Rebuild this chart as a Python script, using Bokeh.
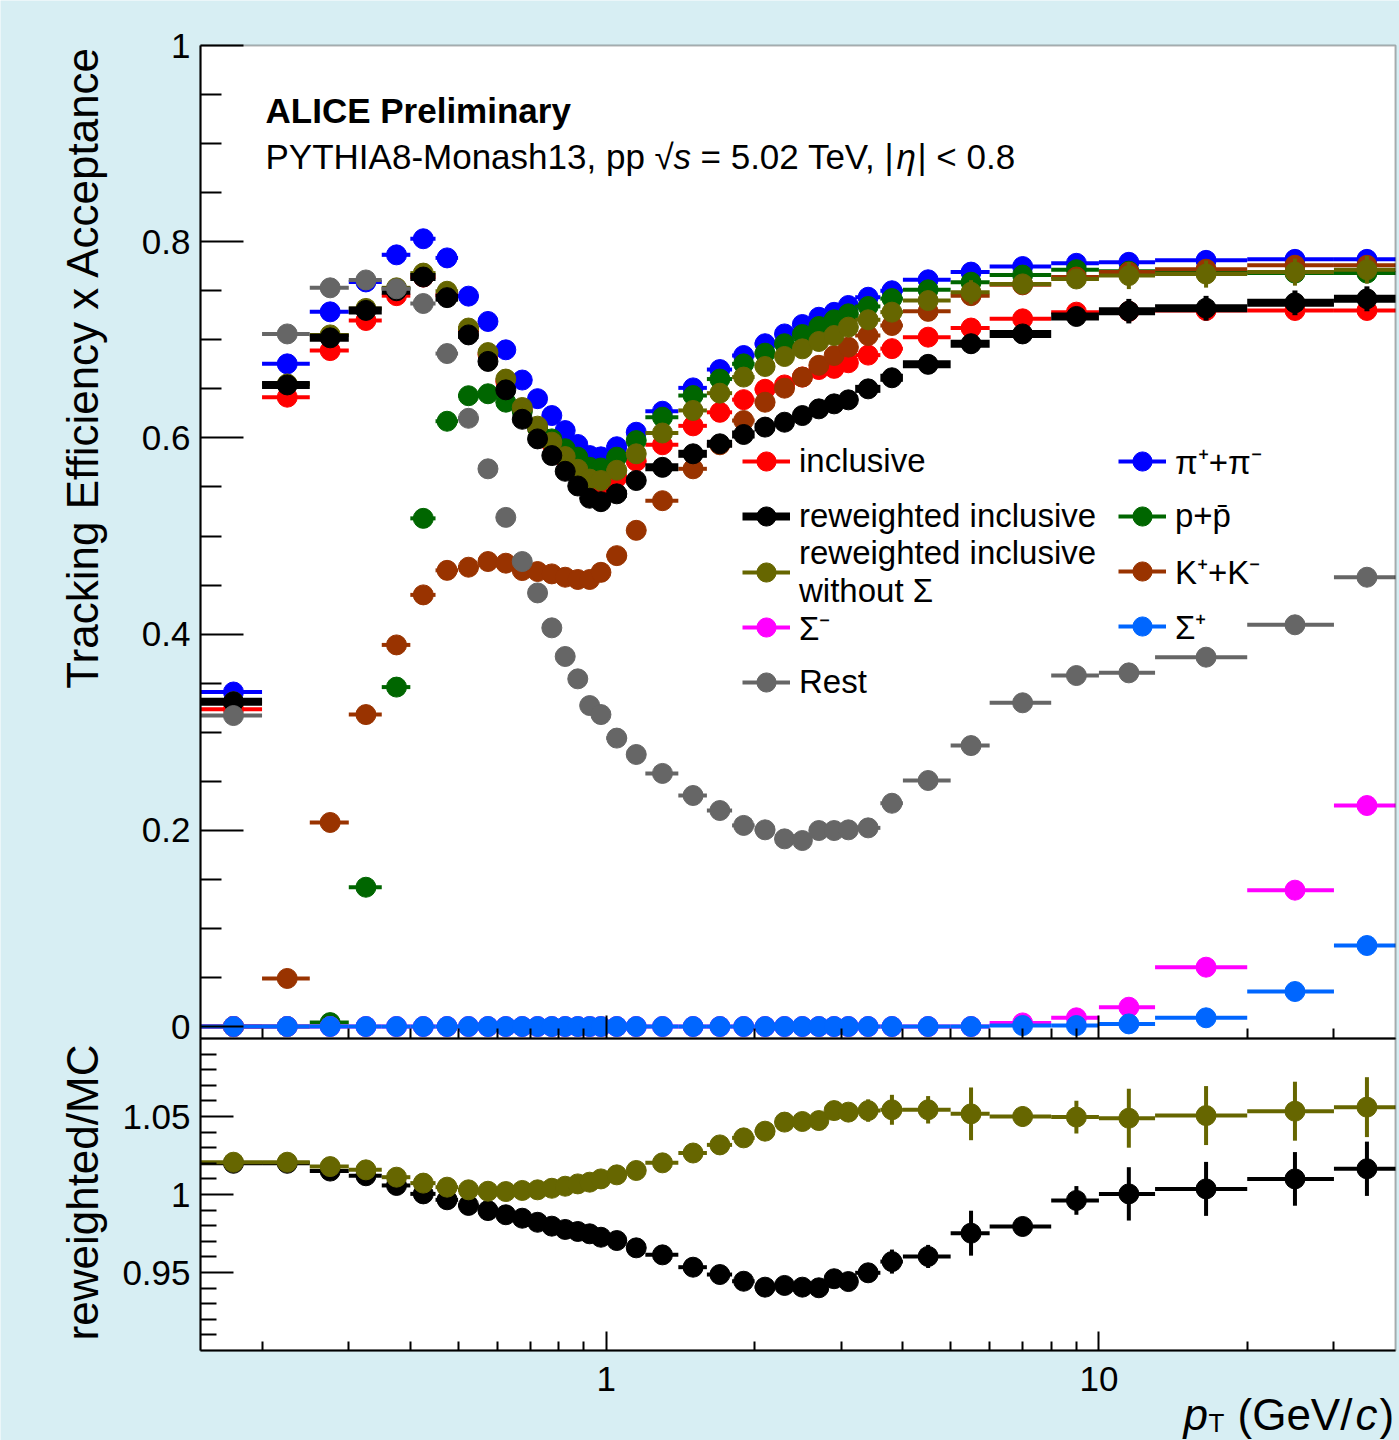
from math import log10, pi
from bokeh.plotting import figure
from bokeh.models import (FixedTicker, Label, Legend, LegendItem, Range1d,
                          ColumnDataSource, BoxAnnotation, LinearAxis, LogAxis)
from bokeh.embed import file_html
from bokeh.resources import INLINE

# ---------------- data ----------------
bin_edges = [0.15, 0.2, 0.25, 0.3, 0.35, 0.4, 0.45, 0.5, 0.55, 0.6,
             0.65, 0.7, 0.75, 0.8, 0.85, 0.9, 0.95, 1.0, 1.1, 1.2,
             1.4, 1.6, 1.8, 2.0, 2.2, 2.4, 2.6, 2.8, 3.0, 3.2,
             3.6, 4.0, 5.0, 6.0, 8.0, 10.0, 13.0, 20.0, 30.0, 40.0]

inclusive = [0.3235, 0.6415, 0.689, 0.7197, 0.745, 0.764, 0.7455, 0.710, 0.685, 0.6575,
             0.6286, 0.6099, 0.594, 0.579, 0.5644, 0.5524, 0.551, 0.5595, 0.5763, 0.593,
             0.6123, 0.6261, 0.639, 0.6496, 0.654, 0.6621, 0.6697, 0.6709, 0.6766, 0.6844,
             0.691, 0.7027, 0.712, 0.7214, 0.7282, 0.729, 0.7299, 0.7299, 0.7299]

reweighted = [0.331, 0.654, 0.702, 0.730, 0.750, 0.764, 0.743, 0.705, 0.678, 0.649,
              0.619, 0.599, 0.582, 0.566, 0.551, 0.5385, 0.535, 0.543, 0.5566, 0.570,
              0.5838, 0.594, 0.6035, 0.611, 0.616, 0.6228, 0.6296, 0.6347, 0.6388, 0.650,
              0.6613, 0.675, 0.696, 0.706, 0.7238, 0.7292, 0.7322, 0.7377, 0.7418]
reweighted_err = [0.0, 0.0, 0.0, 0.0, 0.0, 0.0, 0.0, 0.0, 0.0, 0.0,
                  0.0, 0.0, 0.0, 0.0, 0.0, 0.0, 0.0, 0.0, 0.0, 0.0,
                  0.0, 0.0, 0.0, 0.0, 0.0, 0.0, 0.0, 0.0, 0.0, 0.003,
                  0.005, 0.005, 0.010, 0.0045, 0.0067, 0.0125, 0.0126, 0.0126, 0.0127]

without_sigma = [0.331, 0.655, 0.705, 0.732, 0.753, 0.768, 0.7495, 0.712, 0.687, 0.660,
                 0.631, 0.612, 0.5957, 0.581, 0.568, 0.558, 0.5566, 0.567, 0.5838, 0.605,
                 0.628, 0.6456, 0.662, 0.6728, 0.683, 0.6908, 0.6983, 0.7044, 0.7129, 0.7204,
                 0.7282, 0.740, 0.7485, 0.757, 0.762, 0.7655, 0.767, 0.769, 0.7714]
without_sigma_err = [0.0, 0.0, 0.0, 0.0, 0.0, 0.0, 0.0, 0.0, 0.0, 0.0,
                     0.0, 0.0, 0.0, 0.0, 0.0, 0.0, 0.0, 0.0, 0.0, 0.0,
                     0.0, 0.0, 0.0, 0.0, 0.0, 0.0, 0.0, 0.0, 0.002, 0.005,
                     0.007, 0.0064, 0.0123, 0.0047, 0.0077, 0.0138, 0.0138, 0.0138, 0.014]

pions = [0.341, 0.6755, 0.7285, 0.759, 0.7866, 0.803, 0.7835, 0.7445, 0.7187, 0.6898,
         0.659, 0.640, 0.6228, 0.6075, 0.5933, 0.582, 0.5807, 0.591, 0.6058, 0.6272,
         0.651, 0.6697, 0.684, 0.696, 0.706, 0.7156, 0.723, 0.728, 0.735, 0.7434,
         0.750, 0.7612, 0.769, 0.7747, 0.778, 0.779, 0.781, 0.782, 0.782]

protons = [0.0, 0.0, 0.004, 0.142, 0.346, 0.518, 0.617, 0.643, 0.645, 0.6364,
           0.627, 0.610, 0.599, 0.589, 0.5804, 0.570, 0.5693, 0.5804, 0.5973, 0.6211,
           0.6432, 0.660, 0.6755, 0.6864, 0.696, 0.7054, 0.7136, 0.7204, 0.7265, 0.734,
           0.742, 0.751, 0.7587, 0.766, 0.7715, 0.770, 0.769, 0.768, 0.768]

kaons = [0.0, 0.049, 0.208, 0.318, 0.389, 0.440, 0.465, 0.4682, 0.474, 0.4723,
         0.4648, 0.4638, 0.4614, 0.458, 0.4557, 0.4557, 0.463, 0.480, 0.5058, 0.536,
         0.5685, 0.593, 0.6177, 0.6364, 0.6507, 0.662, 0.674, 0.684, 0.6925, 0.7044,
         0.7146, 0.729, 0.745, 0.756, 0.764, 0.769, 0.772, 0.776, 0.776]

sigma_minus = [0.0, 0.0, 0.0, 0.0, 0.0, 0.0, 0.0, 0.0, 0.0, 0.0,
               0.0, 0.0, 0.0, 0.0, 0.0, 0.0, 0.0, 0.0, 0.0, 0.0,
               0.0, 0.0, 0.0, 0.0, 0.0, 0.0, 0.0, 0.0, 0.0, 0.0,
               0.0, 0.0, 0.0, 0.0037, 0.0089, 0.0197, 0.0605, 0.139, 0.2253]

sigma_plus = [0.0, 0.0, 0.0, 0.0, 0.0, 0.0, 0.0, 0.0, 0.0, 0.0,
              0.0, 0.0, 0.0, 0.0, 0.0, 0.0, 0.0, 0.0, 0.0, 0.0,
              0.0, 0.0, 0.0, 0.0, 0.0, 0.0, 0.0, 0.0, 0.0, 0.0,
              0.0, 0.0, 0.0, 0.001, 0.001, 0.0027, 0.0089, 0.0357, 0.0826]

rest = [0.317, 0.706, 0.753, 0.761, 0.752, 0.737, 0.686, 0.620, 0.5685, 0.519,
        0.474, 0.442, 0.4064, 0.3772, 0.3544, 0.3272, 0.318, 0.294, 0.2773, 0.258,
        0.2355, 0.2202, 0.205, 0.2005, 0.1913, 0.1896, 0.1998, 0.1998, 0.2005, 0.2025,
        0.2276, 0.2508, 0.2864, 0.330, 0.3578, 0.3605, 0.3765, 0.4095, 0.458]

ratio_reweighted = [1.020, 1.020, 1.015, 1.012, 1.0058, 1.0004, 0.9966, 0.993, 0.9897, 0.987,
                    0.9848, 0.9822, 0.9797, 0.9776, 0.9763, 0.9748, 0.9726, 0.9705, 0.9658, 0.9613,
                    0.9534, 0.9487, 0.9444, 0.9406, 0.9417, 0.9406, 0.9402, 0.946, 0.9442, 0.9498,
                    0.957, 0.9603, 0.9752, 0.9795, 0.9962, 1.0004, 1.0036, 1.010, 1.0165]
ratio_reweighted_err = [0.0, 0.0, 0.0, 0.0, 0.0, 0.0, 0.0, 0.0, 0.0, 0.0,
                        0.0, 0.0, 0.0, 0.0, 0.0, 0.0, 0.0, 0.0, 0.0, 0.0,
                        0.0, 0.0, 0.0, 0.0, 0.0, 0.0, 0.0, 0.0, 0.0, 0.005,
                        0.0077, 0.0074, 0.0144, 0.0062, 0.0092, 0.0171, 0.0173, 0.0172, 0.0174]

ratio_without_sigma = [1.0207, 1.0207, 1.0179, 1.0158, 1.0111, 1.0073, 1.0047, 1.003, 1.0021, 1.0019,
                       1.0026, 1.003, 1.004, 1.0053, 1.0068, 1.0079, 1.010, 1.0126, 1.0154, 1.0203,
                       1.0266, 1.0318, 1.0363, 1.0406, 1.0464, 1.0468, 1.0474, 1.0538, 1.0528, 1.0538,
                       1.0543, 1.0543, 1.0517, 1.050, 1.0496, 1.0489, 1.0506, 1.0534, 1.056]
ratio_without_sigma_err = [0.0, 0.0, 0.0, 0.0, 0.0, 0.0, 0.0, 0.0, 0.0, 0.0,
                           0.0, 0.0, 0.0, 0.0, 0.0, 0.0, 0.0, 0.0, 0.0, 0.0,
                           0.0, 0.0, 0.0, 0.0, 0.0, 0.0, 0.0, 0.0, 0.003, 0.0072,
                           0.0096, 0.0088, 0.0169, 0.0065, 0.0105, 0.0189, 0.0189, 0.0189, 0.0192]

top_y_ticks = [0, 0.2, 0.4, 0.6, 0.8, 1]
top_y_labels = ["0", "0.2", "0.4", "0.6", "0.8", "1"]
top_y_minor = [0.05, 0.1, 0.15, 0.25, 0.3, 0.35, 0.45, 0.5, 0.55, 0.65, 0.7, 0.75, 0.85, 0.9, 0.95]
bot_y_ticks = [0.95, 1, 1.05]
bot_y_labels = ["0.95", "1", "1.05"]
bot_y_minor = [0.91, 0.92, 0.93, 0.94, 0.96, 0.97, 0.98, 0.99,
               1.01, 1.02, 1.03, 1.04, 1.06, 1.07, 1.08, 1.09]
x_ticks = [1, 10]
x_labels = ["1", "10"]
x_minor = [0.2, 0.3, 0.4, 0.5, 0.6, 0.7, 0.8, 0.9, 2, 3, 4, 5, 6, 7, 8, 9, 20, 30]

# ---------------- layout constants (pixels of the 1399x1440 page) ----------------
W, H = 1399, 1440
BG = "#d7eef3"
FONT = "Liberation Sans"
X_MIN, X_MAX = 0.15, 40.0          # pad x range
YT_MIN, YT_MAX = -0.0122, 1.0      # upper pad y range
YB_MIN, YB_MAX = 0.9, 1.1          # ratio pad y range
FL, FR = 200, 1395                 # pad frame left / right
TT, TB, BB = 45, 1038, 1350        # upper top, pad boundary, lower bottom

LX = log10(X_MAX / X_MIN) / (FR - FL)
KT = (YT_MAX - YT_MIN) / (TB - TT)
KB = (YB_MAX - YB_MIN) / (BB - TB)

def px2x(px):
    return X_MIN * 10 ** ((px - FL) * LX)

def py2yt(py):
    return YT_MAX - (py - TT) * KT

def py2yb(py):
    return YB_MAX - (py - TB) * KB

bin_lo = bin_edges[:-1]
bin_hi = bin_edges[1:]
centers = [(a + b) / 2 for a, b in zip(bin_lo, bin_hi)]

p = figure(x_axis_type="log",
           x_range=Range1d(px2x(0), px2x(W)),
           y_range=Range1d(py2yt(H), py2yt(0)),
           frame_width=W, frame_height=H, min_border=0,
           output_backend="svg", toolbar_location=None,
           border_fill_color=BG, background_fill_color=BG,
           outline_line_color=None)
p.extra_y_ranges = {"ratio": Range1d(py2yb(H), py2yb(0))}
p.grid.visible = False

# pad backgrounds
p.add_layout(BoxAnnotation(left=X_MIN, right=X_MAX, bottom=YT_MIN, top=YT_MAX,
                           fill_color="white", fill_alpha=1.0, line_color=None,
                           level="underlay"))
p.add_layout(BoxAnnotation(left=X_MIN, right=X_MAX, bottom=YB_MIN, top=YB_MAX,
                           y_range_name="ratio", fill_color="white", fill_alpha=1.0,
                           line_color=None, level="underlay"))

def style_axis(ax, maj_in, min_in, size, standoff):
    ax.major_tick_in = maj_in
    ax.major_tick_out = 0
    ax.minor_tick_in = min_in
    ax.minor_tick_out = 0
    ax.major_tick_line_width = 2
    ax.minor_tick_line_width = 2
    ax.axis_line_width = 2
    ax.major_label_text_font = FONT
    ax.major_label_text_font_size = size
    ax.major_label_standoff = standoff
    ax.major_label_text_color = "black"

# upper pad axes
yax_top = p.yaxis[0]
yax_top.fixed_location = X_MIN
yax_top.bounds = (YT_MIN, YT_MAX)
yax_top.ticker = FixedTicker(ticks=top_y_ticks, minor_ticks=top_y_minor)
yax_top.major_label_overrides = dict(zip(top_y_ticks, top_y_labels))
style_axis(yax_top, 43, 21, "35px", 10)

xax_top = p.xaxis[0]
xax_top.fixed_location = YT_MIN
xax_top.bounds = (X_MIN, X_MAX)
xax_top.ticker = FixedTicker(ticks=x_ticks, minor_ticks=x_minor)
style_axis(xax_top, 23, 10, "0px", 0)
xax_top.major_label_text_alpha = 0

# ratio pad axes
yax_bot = LinearAxis(y_range_name="ratio", fixed_location=X_MIN, bounds=(YB_MIN, YB_MAX),
                     ticker=FixedTicker(ticks=bot_y_ticks, minor_ticks=bot_y_minor))
yax_bot.major_label_overrides = dict(zip(bot_y_ticks, bot_y_labels))
style_axis(yax_bot, 33, 16, "35px", 10)
p.add_layout(yax_bot, "left")

xax_bot = LogAxis(y_range_name="ratio", fixed_location=YB_MIN, bounds=(X_MIN, X_MAX),
                  ticker=FixedTicker(ticks=x_ticks, minor_ticks=x_minor))
xax_bot.major_label_overrides = dict(zip(x_ticks, x_labels))
style_axis(xax_bot, 19, 9, "35px", 16)
p.add_layout(xax_bot, "below")

def add_series(yvals, color, hlw, yerr=None, vlw=4, rng="default"):
    src = ColumnDataSource(dict(x=centers, lo=bin_lo, hi=bin_hi, y=yvals))
    hbar = p.segment(x0="lo", y0="y", x1="hi", y1="y", source=src,
                     line_color=color, line_width=hlw, y_range_name=rng)
    if yerr is not None:
        xs, y0, y1 = [], [], []
        for xc, yv, e in zip(centers, yvals, yerr):
            if e > 0:
                xs.append(xc)
                y0.append(yv - e)
                y1.append(yv + e)
        p.segment(x0=xs, y0=y0, x1=xs, y1=y1, line_color=color, line_width=vlw,
                  y_range_name=rng)
    pts = p.scatter(x="x", y="y", source=src, marker="circle", size=20,
                    fill_color=color, line_color=color, line_width=1, y_range_name=rng)
    return [hbar, pts]

colors = dict(inclusive="#ff0000", pions="#0000ff", protons="#006600",
              kaons="#993300", wos="#666600", rew="#000000", rest="#666666",
              smin="#ff00ff", splus="#0066ff")

r_incl = add_series(inclusive, colors["inclusive"], 4)
r_pi = add_series(pions, colors["pions"], 4)
r_p = add_series(protons, colors["protons"], 4)
r_k = add_series(kaons, colors["kaons"], 4)
r_wos = add_series(without_sigma, colors["wos"], 4, without_sigma_err, 4)
r_rew = add_series(reweighted, colors["rew"], 8, reweighted_err, 5)
r_rest = add_series(rest, colors["rest"], 4)
r_smin = add_series(sigma_minus, colors["smin"], 4)
r_splus = add_series(sigma_plus, colors["splus"], 4)

add_series(ratio_reweighted, colors["rew"], 4, ratio_reweighted_err, 4, rng="ratio")
add_series(ratio_without_sigma, colors["wos"], 4, ratio_without_sigma_err, 4, rng="ratio")

# pad outlines on top of everything
p.add_layout(BoxAnnotation(left=X_MIN, right=X_MAX, bottom=YT_MIN, top=YT_MAX,
                           fill_alpha=0, line_color="black", line_width=2, level="overlay"))
p.add_layout(BoxAnnotation(left=X_MIN, right=X_MAX, bottom=YB_MIN, top=YB_MAX,
                           y_range_name="ratio", fill_alpha=0, line_color="black",
                           line_width=2, level="overlay"))

def mk_legend(items, left_px, bottom_px, gh):
    lg = Legend(items=items, location=(left_px, H - bottom_px), orientation="vertical",
                glyph_width=48, glyph_height=gh, label_height=gh, label_width=10,
                spacing=5, padding=0, margin=0, label_standoff=9,
                background_fill_alpha=0, border_line_alpha=0,
                label_text_font=FONT, label_text_font_size="33px",
                label_text_line_height=1.27, label_text_color="black")
    p.add_layout(lg)

mk_legend([LegendItem(label="inclusive", renderers=r_incl),
           LegendItem(label="reweighted inclusive", renderers=r_rew)],
          742, 541, 50)
mk_legend([LegendItem(label="reweighted inclusive\nwithout \u03a3", renderers=r_wos)],
          742, 614, 84)
mk_legend([LegendItem(label="\u03a3\u207b", renderers=r_smin),
           LegendItem(label="Rest", renderers=r_rest)],
          742, 707, 50)
mk_legend([LegendItem(label="\u03c0\u207a+\u03c0\u207b", renderers=r_pi),
           LegendItem(label="p+p\u0304", renderers=r_p),
           LegendItem(label="K\u207a+K\u207b", renderers=r_k),
           LegendItem(label="\u03a3\u207a", renderers=r_splus)],
          1118, 651, 50)

def add_text(txt, px, py, size, style="normal", align="left", angle=0.0):
    p.add_layout(Label(x=px2x(px), y=py2yt(py), text=txt, text_font=FONT,
                       text_font_size=size, text_font_style=style,
                       text_align=align, text_baseline="middle",
                       angle=angle, text_color="black"))

add_text("ALICE Preliminary", 265, 110, "35px", style="bold")
add_text("PYTHIA8-Monash13, pp \u221a", 265, 156, "35px")
add_text("s", 673, 156, "35px", style="italic")
add_text("= 5.02 TeV, |", 700, 156, "35px")
add_text("\u03b7", 896, 156, "35px", style="italic")
add_text("| < 0.8", 917, 156, "35px")
add_text("Tracking Efficiency x Acceptance", 82, 45, "44px", align="right", angle=pi / 2)
add_text("reweighted/MC", 82, 1192, "44px", align="center", angle=pi / 2)
add_text("p", 1183, 1414, "44px", style="italic")
add_text("T", 1208, 1422, "26px")
add_text("(GeV/", 1237, 1414, "44px")
add_text("c", 1355, 1414, "44px", style="italic")
add_text(")", 1379, 1414, "44px")

open("out.html", "w").write(file_html(p, INLINE, title="ALICE tracking efficiency"))
